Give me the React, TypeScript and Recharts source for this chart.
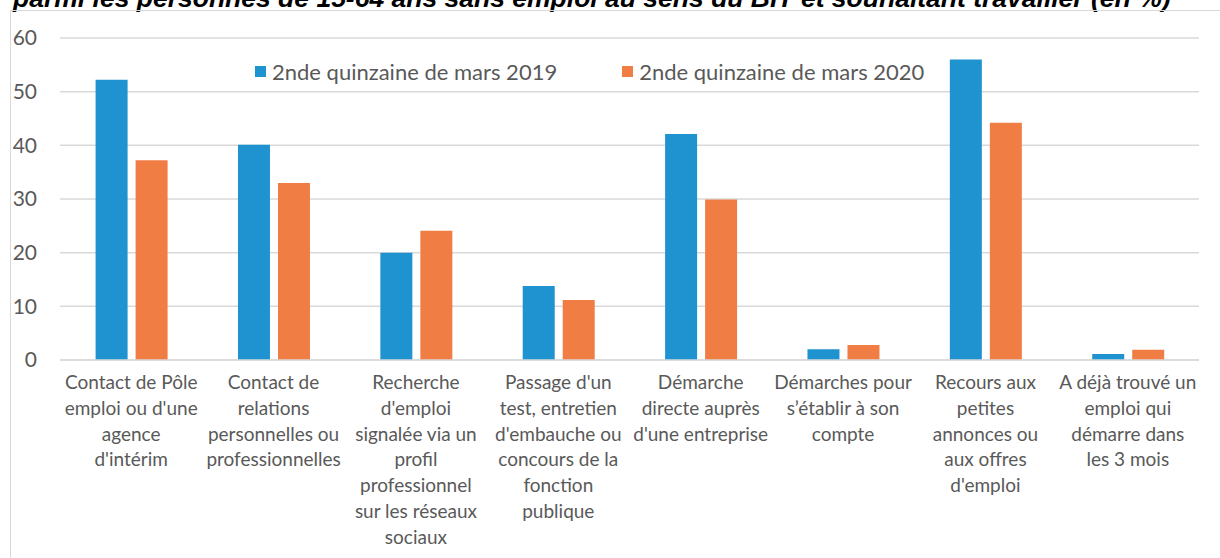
import React from "react";
import { Bar, BarChart, CartesianGrid, Legend, XAxis, YAxis } from "recharts";

const FONT = "Lato, 'Open Sans', sans-serif";
const TEXT = "#595959";
const GRID = "#d9d9d9";

const title =
  "parmi les personnes de 15-64 ans sans emploi au sens du BIT et souhaitant travailler (en %)";

const categories = [
  "Contact de Pôle\nemploi ou d'une\nagence\nd'intérim",
  "Contact de\nrelations\npersonnelles ou\nprofessionnelles",
  "Recherche\nd'emploi\nsignalée via un\nprofil\nprofessionnel\nsur les réseaux\nsociaux",
  "Passage d'un\ntest, entretien\nd'embauche ou\nconcours de la\nfonction\npublique",
  "Démarche\ndirecte auprès\nd'une entreprise",
  "Démarches pour\ns’établir à son\ncompte",
  "Recours aux\npetites\nannonces ou\naux offres\nd'emploi",
  "A déjà trouvé un\nemploi qui\ndémarre dans\nles 3 mois",
];

const values2019 = [52.2, 40.1, 20.0, 13.8, 42.1, 2.0, 56.0, 1.1];
const values2020 = [37.2, 33.0, 24.1, 11.2, 29.9, 2.8, 44.2, 1.9];

const seriesNames = ["2nde quinzaine de mars 2019", "2nde quinzaine de mars 2020"];
const seriesColors = ["#1f93d0", "#f07e44"];

const yTicks = [0, 10, 20, 30, 40, 50, 60];

const data = categories.map((cat, i) => ({
  cat,
  v2019: values2019[i],
  v2020: values2020[i],
}));

function CategoryTick({ x, y, payload }: any) {
  const lines = String(payload.value).split("\n");
  return (
    <text x={x} y={y} textAnchor="middle" fill={TEXT} fontSize={19} fontFamily={FONT}>
      {lines.map((l, i) => (
        <tspan key={i} x={x} dy={i === 0 ? 29 : 25.8}>
          {l}
        </tspan>
      ))}
    </text>
  );
}

function LegendContent() {
  return (
    <div style={{ display: "flex", alignItems: "center", fontFamily: FONT, fontSize: 22, color: TEXT }}>
      {seriesNames.map((name, i) => (
        <div key={name} style={{ display: "flex", alignItems: "center", marginRight: i === 0 ? 65 : 0 }}>
          <span
            style={{ width: 11, height: 11, background: seriesColors[i], display: "inline-block", marginRight: 6 }}
          />
          <span>{name}</span>
        </div>
      ))}
    </div>
  );
}

export default function App() {
  return (
    <div style={{ position: "absolute", left: 0, top: 0, width: 1220, height: 558, overflow: "hidden", background: "#fff" }}>
      <svg width={1220} height={30} style={{ position: "absolute", left: 0, top: 0 }}>
        <text
          x={13}
          y={6.7}
          fontFamily="'Liberation Sans', Arial, sans-serif"
          fontWeight="bold"
          fontStyle="italic"
          fontSize={26.5}
          fill="#000"
        >
          {title}
        </text>
      </svg>
      <div
        style={{
          position: "absolute",
          left: 10,
          top: 10,
          width: 1220,
          height: 560,
          borderLeft: `1.5px solid ${GRID}`,
          borderTop: `1.5px solid ${GRID}`,
        }}
      />
      <div style={{ position: "absolute", left: 0, top: 0 }}>
        <BarChart
          width={1220}
          height={558}
          data={data}
          margin={{ top: 38, right: 21, bottom: 0, left: 0 }}
          barCategoryGap="25%"
          barGap={8}
        >
          <CartesianGrid vertical={false} stroke={GRID} strokeWidth={1.5} />
          <XAxis
            dataKey="cat"
            interval={0}
            height={198}
            tickLine={false}
            tickSize={0}
            tickMargin={0}
            axisLine={{ stroke: GRID, strokeWidth: 1.5 }}
            tick={<CategoryTick />}
          />
          <YAxis
            width={60}
            domain={[0, 60]}
            ticks={yTicks}
            interval={0}
            axisLine={false}
            tickLine={false}
            tickSize={0}
            tickMargin={23}
            tick={{ fill: TEXT, fontSize: 21, fontFamily: FONT }}
          />
          <Legend
            layout="horizontal"
            verticalAlign="middle"
            align="center"
            wrapperStyle={{ top: 58, left: 255, width: 760 }}
            content={<LegendContent />}
          />
          <Bar dataKey="v2019" name={seriesNames[0]} fill={seriesColors[0]} isAnimationActive={false} />
          <Bar dataKey="v2020" name={seriesNames[1]} fill={seriesColors[1]} isAnimationActive={false} />
        </BarChart>
      </div>
    </div>
  );
}
